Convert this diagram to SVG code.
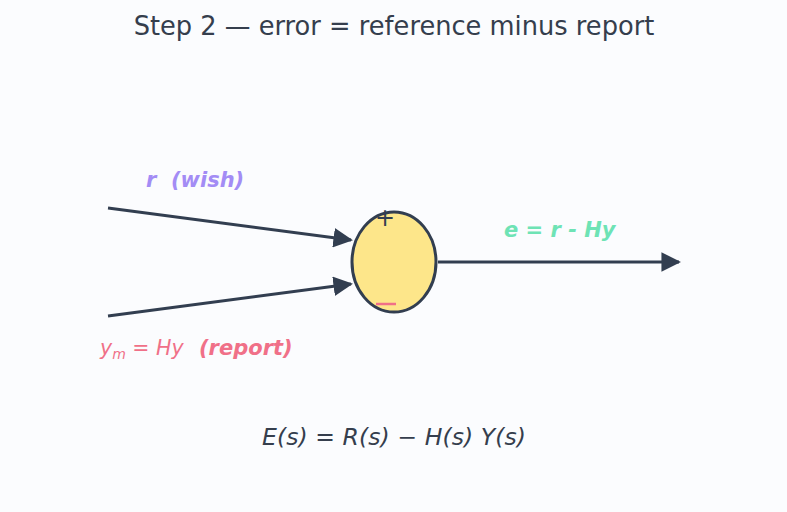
<svg xmlns="http://www.w3.org/2000/svg" width="787" height="512" viewBox="0 0 787 512">
<defs>
<style>
text{font-family:"DejaVu Sans",sans-serif}
.lbl{font-weight:bold;font-style:italic;font-size:21px}
.edge{stroke:#323e50;stroke-width:3;fill:none}
</style>
<marker id="ah" viewBox="0 0 10 10" refX="9" refY="5" markerWidth="6.5" markerHeight="6.5" orient="auto" markerUnits="strokeWidth">
<path d="M0,0 L10,5 L0,10 z" fill="#323e50"/>
</marker>
</defs>
<rect width="787" height="512" fill="#fbfcfe"/>
<text x="394" y="35" text-anchor="middle" font-size="25.7" fill="#353e4d">Step 2 — error = reference minus report</text>
<g id="connectors">
<line class="edge" x1="108" y1="208" x2="351" y2="240" marker-end="url(#ah)"/>
<line class="edge" x1="108" y1="316" x2="351" y2="284" marker-end="url(#ah)"/>
<line class="edge" x1="438" y1="262" x2="679" y2="262" marker-end="url(#ah)"/>
</g>
<g id="sum">
<ellipse cx="394" cy="262" rx="42" ry="50" fill="#fde68a" stroke="#323e50" stroke-width="3"/>
<text x="385" y="226" text-anchor="middle" font-size="24" fill="#323e50">+</text>
<line x1="376" y1="304" x2="396" y2="304" stroke="#f07088" stroke-width="2.5"/>
</g>
<g id="r-label"><text class="lbl" x="146" y="187" fill="#a38cf5" xml:space="preserve">r  (wish)</text></g>
<g id="e-label"><text class="lbl" x="504" y="237" fill="#6ee3b5">e = r - Hy</text></g>
<g id="y-label">
<text x="100" y="355" font-size="20.5" font-style="italic" fill="#f07088">y<tspan font-size="14" dy="4">m</tspan><tspan dy="-4"> = Hy</tspan></text>
<text class="lbl" x="199" y="355" fill="#f07088">(report)</text>
</g>
<text x="262" y="445" font-size="23.5" font-style="italic" fill="#353e4d" textLength="264" lengthAdjust="spacing">E(s) = R(s) − H(s) Y(s)</text>
</svg>
